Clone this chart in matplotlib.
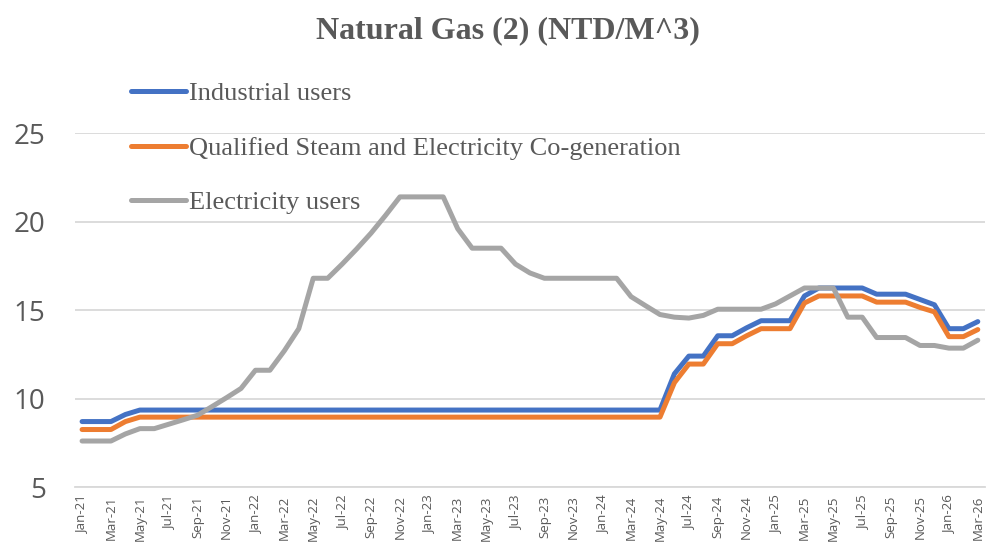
import matplotlib.pyplot as plt
import numpy as np

# monthly prices Jan-21 .. Mar-26
months = ['Jan', 'Feb', 'Mar', 'Apr', 'May', 'Jun', 'Jul', 'Aug', 'Sep', 'Oct', 'Nov', 'Dec']
labels = [m + '-' + str(y) for y in range(21, 27) for m in months][:63]

industrial = [8.7, 8.7, 8.7, 9.1, 9.35] + [9.35] * 36 + [
    11.4, 12.4, 12.4, 13.55, 13.55, 14.0, 14.4, 14.4, 14.4,
    15.8, 16.25, 16.25, 16.25, 16.25, 15.9, 15.9, 15.9, 15.6, 15.3,
    13.95, 13.95, 14.35]
cogeneration = [8.25, 8.25, 8.25, 8.7, 8.95] + [8.95] * 36 + [
    10.9, 11.95, 11.95, 13.1, 13.1, 13.55, 13.95, 13.95, 13.95,
    15.4, 15.8, 15.8, 15.8, 15.8, 15.45, 15.45, 15.45, 15.15, 14.9,
    13.5, 13.5, 13.9]
electricity = [7.6, 7.6, 7.6, 8.0, 8.3, 8.3, 8.55, 8.8, 9.06, 9.55, 10.05, 10.57,
               11.6, 11.6, 12.7, 13.95, 16.8, 16.8, 17.6, 18.45, 19.35, 20.35,
               21.4, 21.4, 21.4, 21.4, 19.6, 18.5, 18.5, 18.5, 17.6, 17.1,
               16.8, 16.8, 16.8, 16.8, 16.8, 16.8, 15.76, 15.25, 14.75, 14.6,
               14.55, 14.7, 15.05, 15.05, 15.05, 15.05, 15.35, 15.8, 16.25, 16.25,
               16.25, 14.6, 14.6, 13.45, 13.45, 13.45, 13.0, 13.0, 12.85, 12.85,
               13.3]

x = np.arange(len(labels))
txt = '#595959'

fig = plt.figure(figsize=(9.98, 5.55), dpi=100)
ax = fig.add_axes([0.075, 0.1225, 0.912, 0.6375])

ax.plot(x, industrial, color='#4472C4', lw=3.6, label='Industrial users', solid_capstyle='round')
ax.plot(x, cogeneration, color='#ED7D31', lw=3.6, label='Qualified Steam and Electricity Co-generation', solid_capstyle='round')
ax.plot(x, electricity, color='#A5A5A5', lw=3.6, label='Electricity users', solid_capstyle='round')

ax.set_ylim(5, 25)
ax.set_yticks([5, 10, 15, 20, 25])
ax.set_xlim(-0.5, len(labels) - 0.5)
ax.set_xticks(x[::2])
ax.set_xticklabels(labels[::2], rotation=90, fontsize=9.5, color=txt, family='Open Sans')
for t in ax.get_yticklabels():
    t.set_family('Open Sans')
    t.set_fontsize(20)
    t.set_color(txt)
ax.tick_params(length=0, pad=6)
ax.tick_params(axis='y', pad=21)
ax.grid(axis='y', color='#d9d9d9', lw=1.3)
ax.set_axisbelow(True)
for s in ['top', 'right', 'left']:
    ax.spines[s].set_visible(False)
ax.spines['bottom'].set_color('#d9d9d9')
ax.spines['bottom'].set_linewidth(1.3)

fig.suptitle('Natural Gas (2) (NTD/M^3)', x=0.509, y=0.97, fontsize=23, fontweight='bold',
             color=txt, family='Liberation Serif')

leg = fig.legend(loc='upper left', bbox_to_anchor=(0.107, 0.895), frameon=False,
                 prop={'family': 'Liberation Serif', 'size': 19}, labelcolor=txt,
                 handlelength=2.1, handletextpad=0.1, labelspacing=1.17)

plt.savefig('out.png')
